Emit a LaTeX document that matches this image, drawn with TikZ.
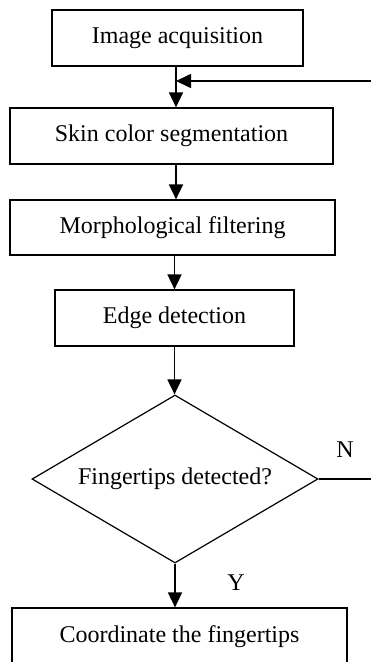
\documentclass[tikz,border=0pt]{standalone}
\usepackage{fontspec}
\setmainfont{Liberation Serif}
\usetikzlibrary{arrows.meta,shapes.geometric}
\begin{document}
\begin{tikzpicture}[x=1pt,y=-1pt,
  stepbox/.style={draw, line width=1.2pt, rectangle, inner sep=0pt, font=\fontsize{24}{28}\selectfont},
  decbox/.style={draw, line width=1.2pt, diamond, shape aspect=1.7, inner sep=0pt, minimum width=286pt, minimum height=168pt, font=\fontsize{24}{28}\selectfont},
  lbl/.style={font=\fontsize{24}{28}\selectfont, inner sep=0pt},
  arr/.style={line width=1.7pt, -{Triangle[length=15pt,width=14pt]}},
  plain/.style={line width=1.4pt}]
\useasboundingbox (0,0) rectangle (371,662);
\clip (0,0) rectangle (371,662);
\node[stepbox, minimum width=251pt, minimum height=56pt] (b1) at (177.5,38) {Image acquisition};
\node[stepbox, minimum width=323pt, minimum height=56pt] (b2) at (171.5,136) {Skin color segmentation};
\node[stepbox, minimum width=325pt, minimum height=55pt] (b3) at (172.5,227.5) {Morphological filtering};
\node[stepbox, minimum width=239pt, minimum height=56pt] (b4) at (174.5,318) {Edge detection};
\node[decbox] (d) at (175,479) {Fingertips detected?};
\node[stepbox, minimum width=335pt, minimum height=58pt] (b5) at (179.5,637) {Coordinate the fingertips};
\node[lbl] (n) at (345,450) {N};
\node[lbl] (y) at (236,583) {Y};
\coordinate (tr) at (176,66);
\coordinate (fb) at (372,81);
\coordinate (nr) at (372,479);
\draw[arr] (tr) -- (tr |- b2.north);
\draw[arr] (fb) -- (tr |- fb);
\draw[arr] (b2.south -| tr) -- (tr |- b3.north);
\draw[arr] (b3.south -| b4.north) -- (b4.north);
\draw[arr] (b4.south) -- (b4.south |- d.north);
\draw[arr] (d.south) -- (d.south |- b5.north);
\draw[plain] (d.east) -- (nr);
\end{tikzpicture}
\end{document}
